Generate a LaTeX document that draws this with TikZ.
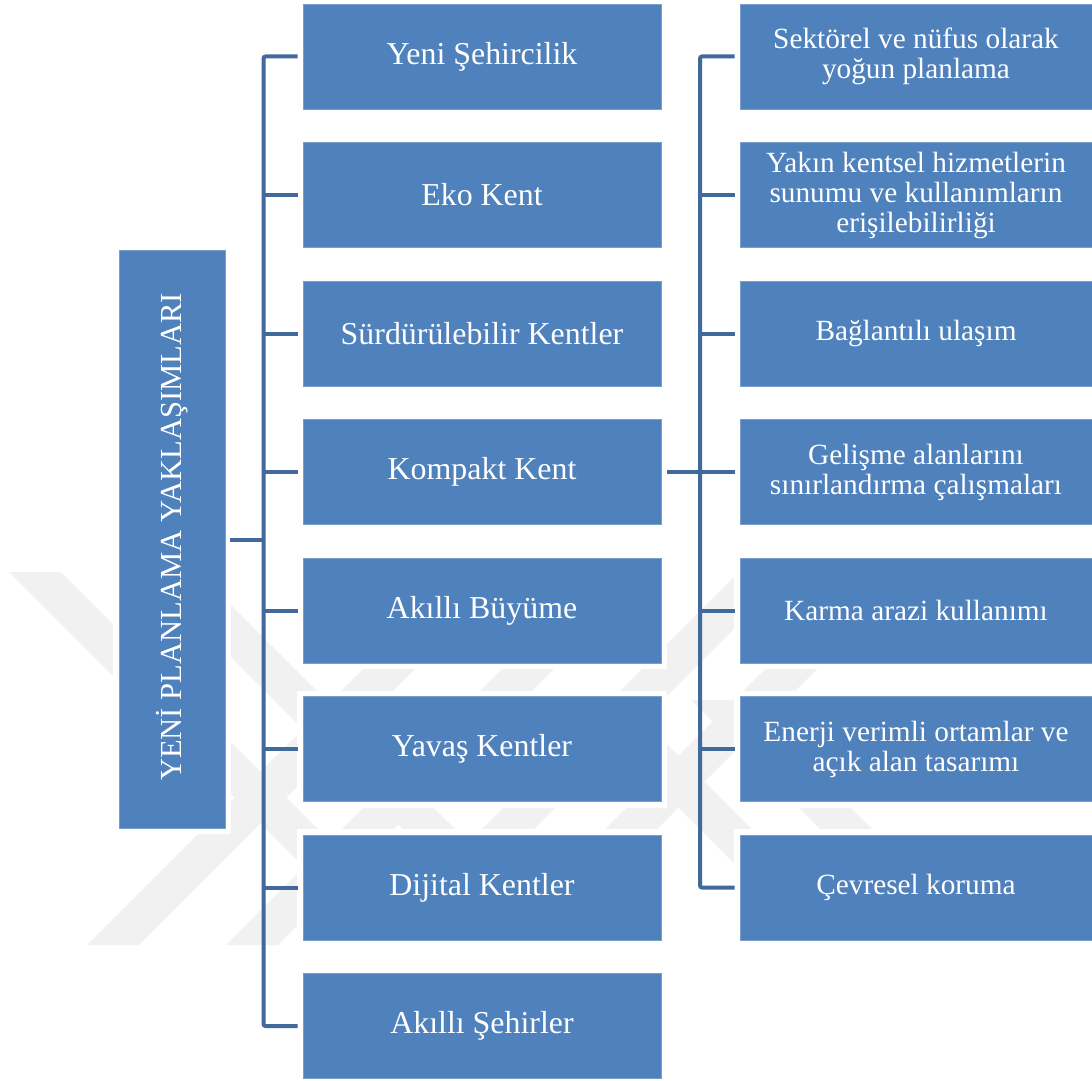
\documentclass[tikz,border=0pt]{standalone}
\usepackage{fontspec}
\setmainfont{Liberation Serif}
\definecolor{boxblue}{HTML}{4F81BD}
\definecolor{boxedge}{HTML}{7A9FCF}
\definecolor{linkblue}{HTML}{41699B}
\definecolor{markgray}{HTML}{F1F1F1}

\begin{document}
\begin{tikzpicture}[x=1pt,y=-1pt,
  box/.style={rectangle, fill=boxblue, draw=boxedge, line width=0.8pt,
    inner sep=0pt, text=white, align=center,
    preaction={draw=white, line width=12pt}},
  rootbox/.style={box, minimum width=106pt, minimum height=578pt},
  midbox/.style={box, minimum width=358pt, minimum height=105pt,
    font=\fontsize{31.9}{34}\selectfont},
  subbox/.style={box, minimum width=352pt, minimum height=105pt,
    font=\fontsize{29.3}{30}\selectfont},
  link/.style={draw=linkblue, line width=4pt, rounded corners=2pt},
]
\useasboundingbox (0,0) rectangle (1092,1081);

% faint background emblem: diagonal bands
\foreach \c in {1058,1197,1337,1460}
  \fill[markgray] ({\c-565-26},565) -- ({\c-565+26},565)
    -- ({\c-945+26},945) -- ({\c-945-26},945) -- cycle;
\foreach \b/\ya in {-537/572,-400/572,-103/700,17/700}
  \fill[markgray] ({\ya+\b-26},\ya) -- ({\ya+\b+26},\ya)
    -- ({945+\b+26},945) -- ({945+\b-26},945) -- cycle;

% root
\node[rootbox] (root) at (172,539) {};
\node[rotate=90, text=white, inner sep=0pt, font=\fontsize{30.6}{32}\selectfont]
  (rootlabel) at (172,537) {YENİ PLANLAMA YAKLAŞIMLARI};

% approaches
\node[midbox] (m1) at (482,56.5)  {Yeni Şehircilik};
\node[midbox] (m2) at (482,195)   {Eko Kent};
\node[midbox] (m3) at (482,333.5) {Sürdürülebilir Kentler};
\node[midbox] (m4) at (482,472)   {Kompakt Kent};
\node[midbox] (m5) at (482,610.5) {Akıllı Büyüme};
\node[midbox] (m6) at (482,749)   {Yavaş Kentler};
\node[midbox] (m7) at (482,887.5) {Dijital Kentler};
\node[midbox] (m8) at (482,1026)  {Akıllı Şehirler};

% compact city principles
\node[subbox] (r1) at (916,56.5)  {Sektörel ve nüfus olarak\\yoğun planlama};
\node[subbox] (r2) at (916,195)   {Yakın kentsel hizmetlerin\\sunumu ve kullanımların\\erişilebilirliği};
\node[subbox] (r3) at (916,333.5) {Bağlantılı ulaşım};
\node[subbox] (r4) at (916,472)   {Gelişme alanlarını\\sınırlandırma çalışmaları};
\node[subbox] (r5) at (916,610.5) {Karma arazi kullanımı};
\node[subbox] (r6) at (916,749)   {Enerji verimli ortamlar ve\\açık alan tasarımı};
\node[subbox] (r7) at (916,887.5) {Çevresel koruma};

% left bracket
\coordinate (tl) at (263.5,540);
\draw[link] ([xshift=5pt]root.east |- tl) -- (tl);
\draw[link] ([xshift=-5pt]m1.west) -- (tl |- m1.west) -- (tl |- m8.west) -- ([xshift=-5pt]m8.west);
\foreach \i in {2,...,7}
  \draw[link] (tl |- m\i.west) -- ([xshift=-5pt]m\i.west);

% right bracket
\coordinate (tr) at (700,472);
\draw[link] ([xshift=6pt]m4.east) -- ([xshift=-5pt]r4.west);
\draw[link] ([xshift=-5pt]r1.west) -- (tr |- r1.west) -- (tr |- r7.west) -- ([xshift=-5pt]r7.west);
\foreach \i in {2,3,5,6}
  \draw[link] (tr |- r\i.west) -- ([xshift=-5pt]r\i.west);
\end{tikzpicture}
\end{document}
